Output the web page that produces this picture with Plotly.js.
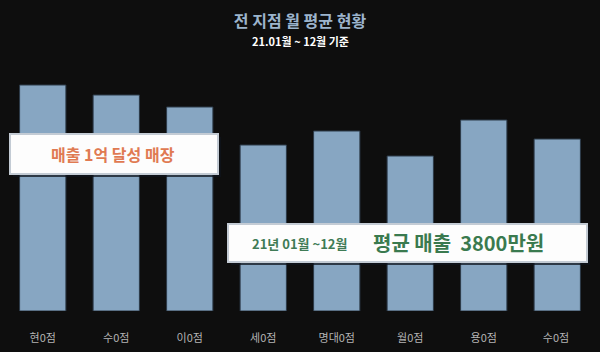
<!DOCTYPE html>
<html>
<head>
<meta charset="utf-8">
<script src="https://cdn.plot.ly/plotly-3.0.1.min.js"></script>
<style>
html,body{margin:0;padding:0;background:#0e0e0e;}
#chart{width:600px;height:352px;}
</style>
</head>
<body>
<div id="chart"></div>
<script>
// Data (relative monthly average per branch)
const branches = ["현0점", "수0점", "이0점", "세0점", "명대0점", "월0점", "용0점", "수0점 "];
const avgSales = [226, 216, 204, 166, 180, 155, 191, 172];

const titleText = "전 지점 월 평균 현황";
const subtitleText = "21.01월 ~ 12월 기준";
const badge1Text = "매출 1억 달성 매장";
const badge2Small = "21년 01월 ~12월";
const badge2Big = "평균 매출&nbsp;&nbsp;3800만원";

const W = 600, H = 352;
const M = {l: 6, r: 6, t: 60, b: 41};
const pw = W - M.l - M.r, ph = H - M.t - M.b;
const px = x => (x - M.l) / pw;
const py = y => (H - M.b - y) / ph;

const FONT = "Noto Sans CJK KR, Noto Sans, sans-serif";

function box(x0, y0, x1, y1) {
  return [
    {type: "rect", xref: "paper", yref: "paper", layer: "above",
     x0: px(x0 + 3), x1: px(x1 + 3), y0: py(y1 + 3), y1: py(y0 + 3),
     fillcolor: "rgba(15,20,28,0.75)", line: {width: 0}},
    {type: "rect", xref: "paper", yref: "paper", layer: "above",
     x0: px(x0), x1: px(x1), y0: py(y1), y1: py(y0),
     fillcolor: "#fdfdfd", line: {color: "#c3cbd4", width: 2}}
  ];
}

const trace = {
  type: "bar",
  x: branches,
  y: avgSales,
  marker: {color: "#87a6c2", line: {color: "#2c3a48", width: 1}},
  hoverinfo: "x+y"
};

const layout = {
  width: W, height: H,
  margin: M,
  paper_bgcolor: "#0e0e0e",
  plot_bgcolor: "#0e0e0e",
  bargap: 0.37,
  showlegend: false,
  title: {
    text: "<b>" + titleText + "</b>",
    font: {family: FONT, size: 16, color: "#9cb4cc"},
    x: 0.5, xanchor: "center", y: 1 - 21 / H, yanchor: "middle", yref: "container"
  },
  xaxis: {
    type: "category",
    showgrid: false, zeroline: false, showline: false,
    ticks: "outside", ticklen: 17, tickcolor: "rgba(0,0,0,0)",
    tickfont: {family: FONT, size: 11, color: "#b4b4b4"}
  },
  yaxis: {
    range: [0, ph],
    visible: false, showgrid: false, zeroline: false
  },
  shapes: [].concat(box(10, 134, 218, 174), box(228, 224, 587, 262)),
  annotations: [
    {xref: "paper", yref: "paper", x: px(300), y: py(41), xanchor: "center", yanchor: "middle",
     text: "<b>" + subtitleText + "</b>", showarrow: false,
     font: {family: FONT, size: 11, color: "#ffffff"}},
    {xref: "paper", yref: "paper", x: px(113), y: py(154), xanchor: "center", yanchor: "middle",
     text: "<b>" + badge1Text + "</b>", showarrow: false,
     font: {family: FONT, size: 16, color: "#e07a52"}},
    {xref: "paper", yref: "paper", x: px(299), y: py(243), xanchor: "center", yanchor: "middle",
     text: "<b>" + badge2Small + "</b>", showarrow: false,
     font: {family: FONT, size: 13, color: "#3f7b56"}},
    {xref: "paper", yref: "paper", x: px(458), y: py(242), xanchor: "center", yanchor: "middle",
     text: "<b>" + badge2Big + "</b>", showarrow: false,
     font: {family: FONT, size: 20, color: "#3a7a4f"}}
  ]
};

Plotly.newPlot("chart", [trace], layout, {displayModeBar: false, staticPlot: true});
</script>
</body>
</html>
